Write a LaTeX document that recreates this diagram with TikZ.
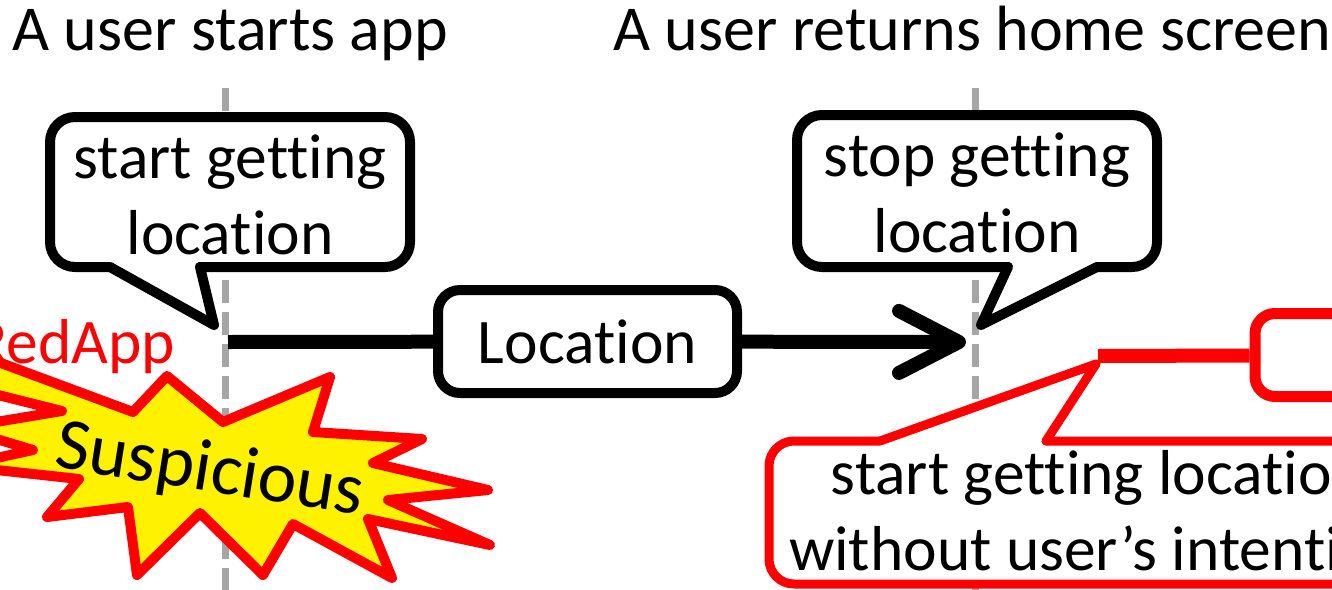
\documentclass[tikz,border=0pt]{standalone}
\usepackage{fontspec}
\setmainfont{Carlito}[RawFeature={-liga;-clig;-calt;-dlig}]
\usetikzlibrary{arrows.meta,positioning}
\definecolor{lanegray}{RGB}{166,166,166}

\begin{document}
\begin{tikzpicture}[x=1pt,y=-1pt,inner sep=0pt,
			every node/.style={font=\fontsize{63.5}{76}\selectfont},
			title/.style={anchor=base west,font=\fontsize{64}{76}\selectfont},
			lane/.style={lanegray,line width=7pt,dash pattern=on 23pt off 9pt},
			balloon/.style={draw,fill=white,line width=10pt,line cap=round,line join=round},
			warn/.style={draw=red,fill=white,line width=9pt,line cap=round,line join=round},
			msgbox/.style={draw,fill=white,line width=10pt,rounded corners=22pt,minimum width=299pt,minimum height=103pt},
			flow/.style={line width=14pt}]
			\useasboundingbox (0,0) rectangle (1332,589);
			\clip (0,0) rectangle (1332,589);
			\node[title] (u_0) at (12,50) {A user starts app};
			\node[title] (u_1) at (613,50) {A user returns home screen};
			% time lanes
			\coordinate (t_0) at (225,88);
			\coordinate (b_0) at (225,600);
			\coordinate (t_1) at (975,88);
			\coordinate (b_1) at (975,600);
			\draw[lane] (t_0) -- (b_0);
			\draw[lane] (t_1) -- (b_1);
			% balloons
			\draw[balloon,rounded corners=25pt] (110,267) -- (50,267) -- (50,117) -- (410,117) -- (410,267) -- (200,267);
			\draw[balloon] (200,267) -- (214,325) -- (110,267);
			\node[align=center] (s_0) at (230,195) {start getting\\location};
			\draw[balloon,rounded corners=25pt] (1008,267) -- (797,267) -- (797,115) -- (1157,115) -- (1157,267) -- (1097,267);
			\draw[balloon] (1097,267) -- (981,325) -- (1008,267);
			\node[align=center] (s_1) at (977,193) {stop getting\\location};
			% message
			\coordinate (h_0) at (228,342);
			\coordinate (h_1) at (966,342);
			\node[msgbox] (loc) at (587.5,341.5) {Location};
			\path[flow] (h_0) edge (loc)
			(loc) edge[-{Straight Barb[length=60pt,width=62pt,round]}] (h_1);
			% red app lane
			\coordinate (r_0) at (1098,356);
			\node[draw=red,line width=11pt,rounded corners=20pt,minimum width=300pt,minimum height=83pt] (r_1) at (1405,355) {};
			\draw[red,line width=14pt] (r_0) -- (r_1);
			\draw[warn,rounded corners=25pt] (880,441) -- (769,441) -- (769,584) -- (1427,584) -- (1427,441) -- (1046,441);
			\draw[warn] (1046,441) -- (1096,364) -- (880,441);
			\node[align=center] (w_0) at (1098,511) {start getting location\\without user’s intention};
			% burst
			\draw[red,fill=yellow,line width=10pt,line join=round] (167,376) -- (223,422) -- (330,377) -- (313,432)
			-- (422,439) -- (373,463) -- (488,490) -- (388,500) -- (490,545) -- (368,519) -- (392,578)
			-- (293,524) -- (263,575) -- (200,513) -- (137,575) -- (128,507) -- (47,517) -- (79,479)
			-- (-40,466) -- (33,450) -- (-40,428) -- (62,411) -- (-50,383) -- (-25,375) -- (-80,333)
			-- (133,412) -- cycle;
			\node[red,anchor=base east] (app) at (175,363) {RedApp};
			\node[rotate=-9,font=\fontsize{73.5}{80}\selectfont] (sus) at (210,472) {Suspicious};
		\end{tikzpicture}
\end{document}
